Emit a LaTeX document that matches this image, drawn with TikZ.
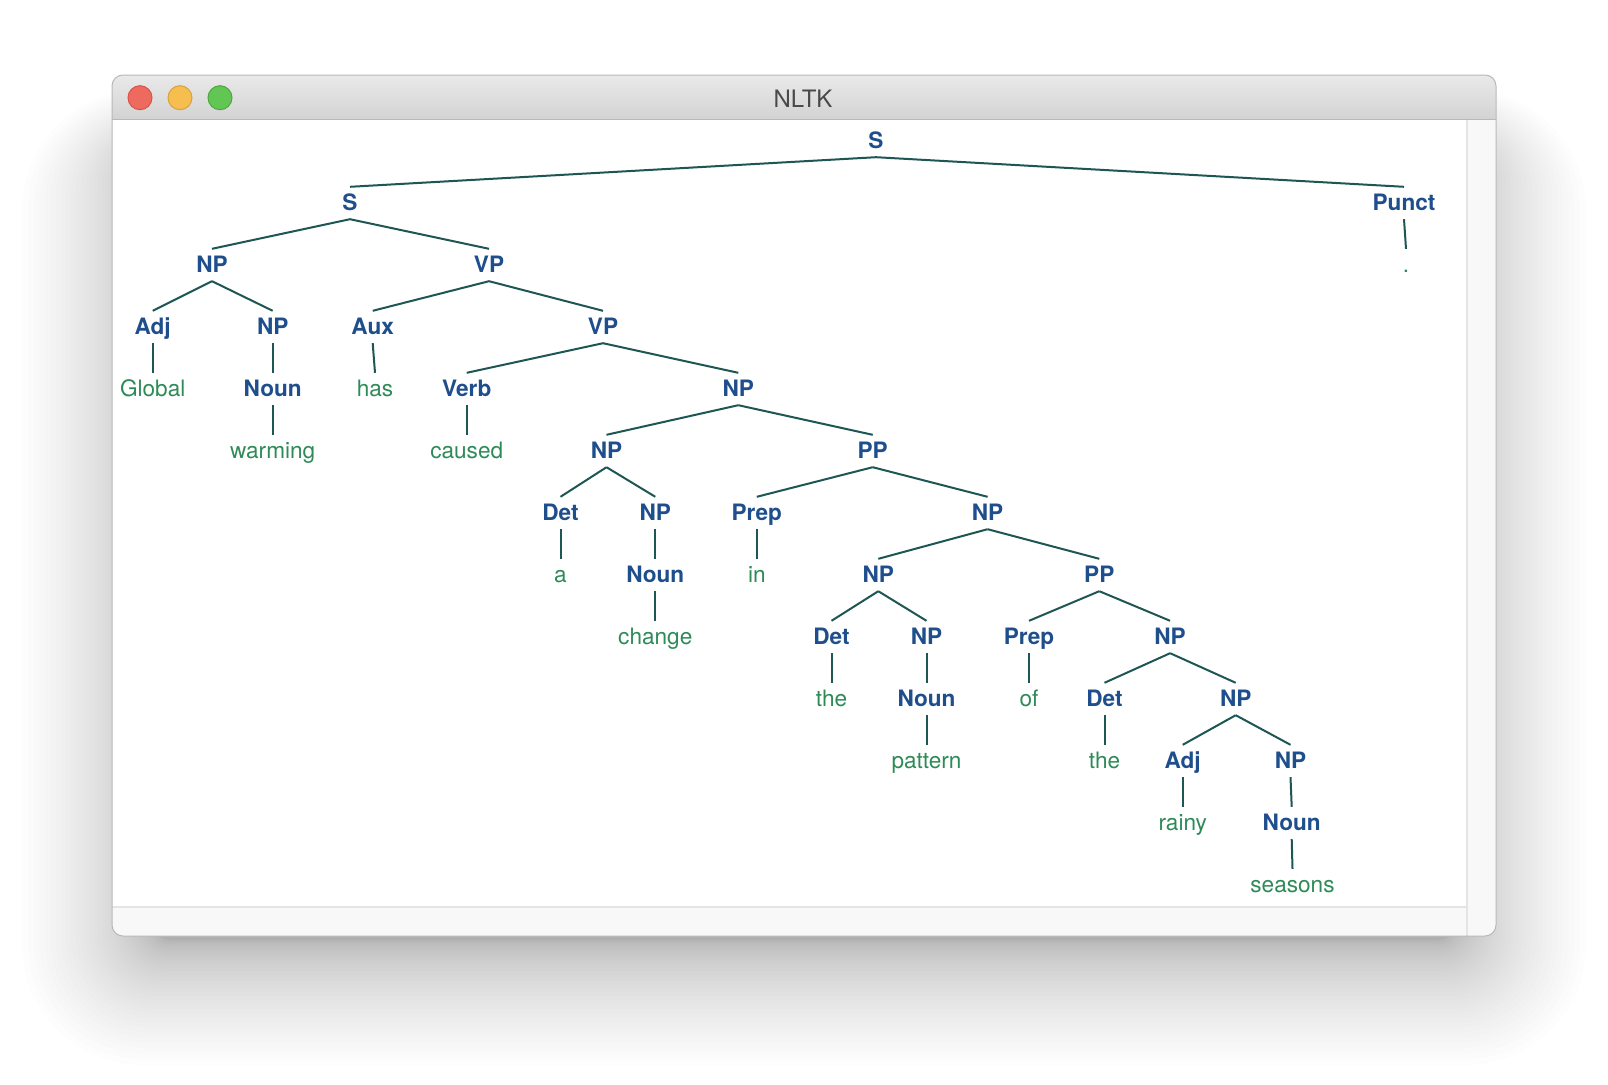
\documentclass[tikz,border=0pt]{standalone}
\usepackage{fontspec}
\setmainfont{TeX Gyre Heros}
\definecolor{ntblue}{HTML}{1F4E8C}
\definecolor{lfgreen}{HTML}{2E8B57}
\definecolor{edgecol}{HTML}{1E5654}
\definecolor{winborder}{HTML}{B8B8B8}
\definecolor{bartop}{HTML}{E9E9E9}
\definecolor{barbot}{HTML}{D3D3D3}
\definecolor{scrollfill}{HTML}{F8F8F8}
\definecolor{scrollline}{HTML}{E4E4E4}
\definecolor{redbtn}{HTML}{EE6A5F}
\definecolor{redbd}{HTML}{D65347}
\definecolor{yelbtn}{HTML}{F5BE4F}
\definecolor{yelbd}{HTML}{D9A13F}
\definecolor{grnbtn}{HTML}{62C655}
\definecolor{grnbd}{HTML}{4DA73F}
\definecolor{titlecol}{HTML}{4A4A4A}
\tikzset{
  nt/.style={font=\bfseries\fontsize{22.6}{27}\selectfont, text=ntblue, inner sep=0pt, text height=23pt, text depth=9pt, anchor=base},
  lf/.style={font=\fontsize{22.6}{27}\selectfont, text=lfgreen, inner sep=0pt, text height=23pt, text depth=9pt, anchor=base},
  edge/.style={draw=edgecol, line width=2pt},
  btn/.style={circle, minimum size=24pt, inner sep=0pt, line width=1pt}
}
\begin{document}
\begin{tikzpicture}[x=1pt,y=-1pt]
\useasboundingbox (0,0) rectangle (1608,1084);
\fill[white] (0,0) rectangle (1608,1084);
% shadow
\foreach \i in {0,...,39}{
  \pgfmathsetmacro\tt{(\i/39)^1.8}
  \pgfmathsetmacro\rr{20+100*\tt}
  \pgfmathsetmacro\xl{152-130*\tt}
  \pgfmathsetmacro\xr{1456+130*\tt}
  \pgfmathsetmacro\yt{150-60*\tt}
  \pgfmathsetmacro\yb{940+125*\tt}
  \fill[black,opacity=0.0095,rounded corners=\rr pt] (\xl,\yt) rectangle (\xr,\yb);
}
% window
\fill[white,rounded corners=11pt] (112,75) rectangle (1496,936);
\begin{scope}
  \clip[rounded corners=11pt] (112,75) rectangle (1496,936);
  \shade[top color=bartop,bottom color=barbot] (112,75) rectangle (1496,119);
  \draw[winborder,line width=1pt] (112,119) -- (1496,119);
  \fill[scrollfill] (1467,119.5) rectangle (1496,936);
  \fill[scrollfill] (112,907) rectangle (1467,936);
  \draw[scrollline,line width=1.5pt] (1467,119.5) -- (1467,936);
  \draw[scrollline,line width=1.5pt] (112,907) -- (1467,907);
\end{scope}
\draw[winborder,line width=1pt,rounded corners=11pt] (112,75) rectangle (1496,936);
% traffic lights
\node[btn,fill=redbtn,draw=redbd] (red) at (140,97.7) {};
\node[btn,fill=yelbtn,draw=yelbd] (yel) at (180,97.7) {};
\node[btn,fill=grnbtn,draw=grnbd] (grn) at (220,97.7) {};
\node[font=\fontsize{24}{28}\selectfont, text=titlecol, inner sep=0pt] (title) at (803,98.5) {NLTK};
% tree nodes
\node[nt] (S0) at (876,148) {S};
\node[nt] (S1) at (350,210) {S};
\node[nt] (Punct) at (1404,210) {Punct};
\node[lf] (dot) at (1406,272) {.};
\node[nt] (NPa) at (212,272) {NP};
\node[nt] (VPa) at (489,272) {VP};
\node[nt] (Adj1) at (152.7,334) {Adj};
\node[nt] (NPb) at (272.7,334) {NP};
\node[nt] (Aux) at (372.7,334) {Aux};
\node[nt] (VPb) at (603,334) {VP};
\node[lf] (Global) at (152.7,396) {Global};
\node[nt] (Noun1) at (272.7,396) {Noun};
\node[lf] (has) at (375,396) {has};
\node[nt] (Verb) at (466.7,396) {Verb};
\node[nt] (NPc) at (738.3,396) {NP};
\node[lf] (warming) at (272.7,458) {warming};
\node[lf] (caused) at (466.7,458) {caused};
\node[nt] (NPd) at (606.5,458) {NP};
\node[nt] (PP1) at (872.7,458) {PP};
\node[nt] (Det1) at (560.5,520) {Det};
\node[nt] (NPe) at (655.3,520) {NP};
\node[nt] (Prep1) at (756.8,520) {Prep};
\node[nt] (NPf) at (987.6,520) {NP};
\node[lf] (a) at (560.5,582) {a};
\node[nt] (Noun2) at (655.3,582) {Noun};
\node[lf] (in) at (756.8,582) {in};
\node[nt] (NPg) at (878.3,582) {NP};
\node[nt] (PP2) at (1099.3,582) {PP};
\node[lf] (change) at (655.3,644) {change};
\node[nt] (Det2) at (831.5,644) {Det};
\node[nt] (NPh) at (926.5,644) {NP};
\node[nt] (Prep2) at (1029,644) {Prep};
\node[nt] (NPi) at (1170.1,644) {NP};
\node[lf] (the1) at (831.5,706) {the};
\node[nt] (Noun3) at (926.5,706) {Noun};
\node[lf] (of) at (1029,706) {of};
\node[nt] (Det3) at (1104.5,706) {Det};
\node[nt] (NPj) at (1235.7,706) {NP};
\node[lf] (pattern) at (926.5,768) {pattern};
\node[lf] (the2) at (1104.5,768) {the};
\node[nt] (Adj2) at (1182.7,768) {Adj};
\node[nt] (NPk) at (1290.5,768) {NP};
\node[lf] (rainy) at (1182.7,830) {rainy};
\node[nt] (Noun4) at (1291.7,830) {Noun};
\node[lf] (seasons) at (1292.5,892) {seasons};
% edges
\foreach \p/\c in {S0/S1,S0/Punct,Punct/dot,S1/NPa,S1/VPa,NPa/Adj1,NPa/NPb,Adj1/Global,NPb/Noun1,Noun1/warming,
  VPa/Aux,VPa/VPb,Aux/has,VPb/Verb,VPb/NPc,Verb/caused,NPc/NPd,NPc/PP1,NPd/Det1,NPd/NPe,Det1/a,NPe/Noun2,Noun2/change,
  PP1/Prep1,PP1/NPf,Prep1/in,NPf/NPg,NPf/PP2,NPg/Det2,NPg/NPh,Det2/the1,NPh/Noun3,Noun3/pattern,
  PP2/Prep2,PP2/NPi,Prep2/of,NPi/Det3,NPi/NPj,Det3/the2,NPj/Adj2,NPj/NPk,Adj2/rainy,NPk/Noun4,Noun4/seasons}{
  \draw[edge] (\p.south) -- (\c.north);
}
\end{tikzpicture}
\end{document}
